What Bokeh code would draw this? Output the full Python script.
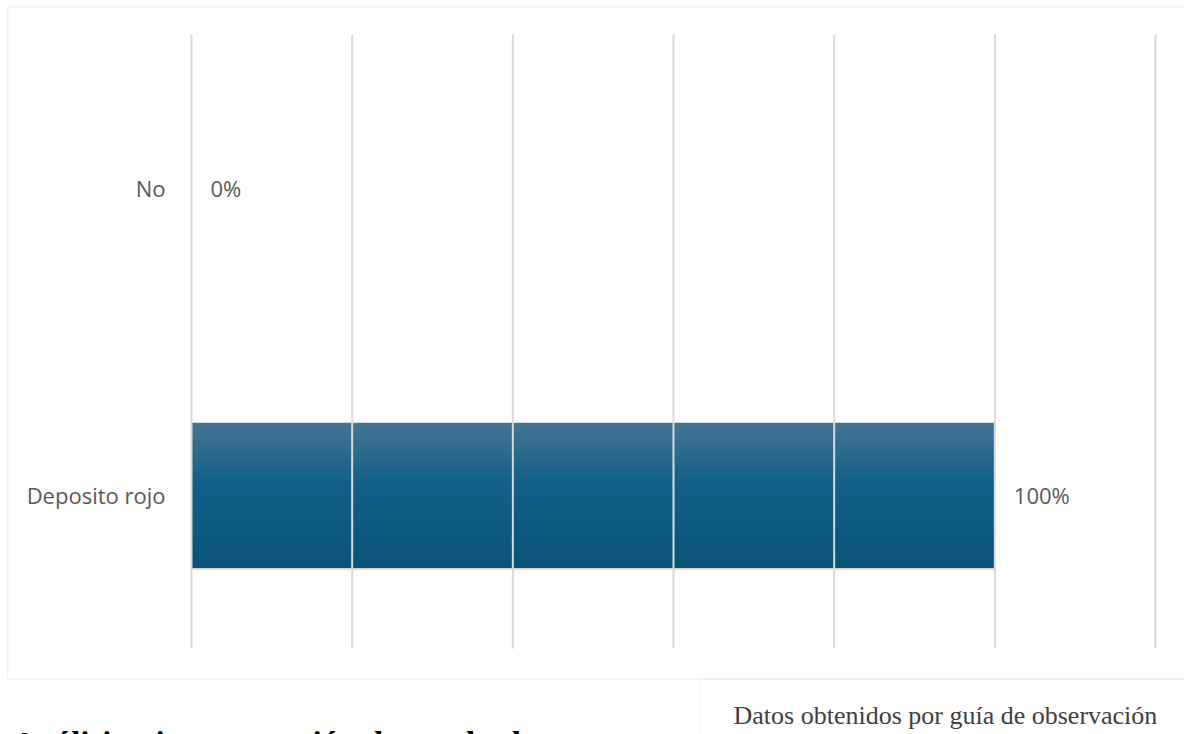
from bokeh.plotting import figure
from bokeh.models import Range1d, ColumnDataSource, Label, BoxAnnotation
from bokeh.transform import dodge
from bokeh.core.properties import value
from bokeh.embed import file_html
from bokeh.resources import INLINE

# ---- data ----
categories = ["Deposito rojo", "No"]
values = [100, 0]
value_labels = ["100%", "0%"]
x_ticks = [0, 20, 40, 60, 80, 100, 120]
source_note = "Datos obtenidos por guía de observación"
heading = "Análisis e interpretación de resultados"

# ---- layout (pixels) ----
W, H = 1184, 734
PLOT_L, PLOT_R = 191, 1155      # pixel of x=0 and x=120
BAND_TOP, BAND_BOT = 34, 648    # top / bottom of the category bands

n = len(categories)
idx = list(range(n))
src = ColumnDataSource(dict(cat=categories, idx=idx, val=values, lab=value_labels))

xmax = x_ticks[-1]
ppx = (PLOT_R - PLOT_L) / xmax
ppy = (BAND_BOT - BAND_TOP) / n
x_range = Range1d(-PLOT_L / ppx, xmax + (W - PLOT_R) / ppx)
y_range = Range1d(-0.5 - (H - BAND_BOT) / ppy, n - 0.5 + BAND_TOP / ppy)

p = figure(width=W, height=H, x_range=x_range, y_range=y_range,
           x_axis_location=None, y_axis_location=None,
           output_backend="svg", toolbar_location=None, min_border=0)
p.border_fill_color = "white"
p.background_fill_color = "white"
p.outline_line_color = None
p.grid.visible = False

BAR_H = 0.47

# soft shadow under the bar
for off, a in [(-0.006, 0.12), (-0.011, 0.08)]:
    p.hbar(y=dodge("idx", off), left=0, right="val", height=BAR_H,
           fill_color="#000000", fill_alpha=a, line_color=None, source=src)

# vertical gradient fill: nested bars, each one starting a bit lower
stops = [(0.0, (0x48, 0x74, 0x93)), (0.42, (0x10, 0x60, 0x87)), (1.0, (0x0a, 0x53, 0x78))]

def col_at(t):
    for (t0, c0), (t1, c1) in zip(stops[:-1], stops[1:]):
        if t0 <= t <= t1:
            f = (t - t0) / (t1 - t0)
            return "#%02x%02x%02x" % tuple(int(round(a + (b - a) * f)) for a, b in zip(c0, c1))
    return "#%02x%02x%02x" % stops[-1][1]

N = 40
sh = BAR_H / N
for k in range(N):
    top = BAR_H / 2 - k * sh
    bot = -BAR_H / 2
    p.hbar(y=dodge("idx", (top + bot) / 2), left=0, right="val",
           height=top - bot, fill_color=col_at((k + 0.5) / N), line_color=None, source=src)

# vertical grid lines (drawn over the bar, as in the reference)
p.segment(x0=x_ticks, x1=x_ticks, y0=-0.5, y1=n - 0.5,
          line_color="#d9d9d9", line_width=2)

# category labels (left) and value labels
p.text(x=0, y="idx", text="cat", x_offset=-26, text_align="right",
       text_baseline="middle", text_font=value("Open Sans"), text_font_size="22px",
       text_color="#595959", source=src)
p.text(x="val", y="idx", text="lab", x_offset=19, text_align="left",
       text_baseline="middle", text_font=value("Open Sans"), text_font_size="22px",
       text_color="#595959", source=src)

# ---- page frame and text below the chart ----
p.add_layout(BoxAnnotation(left=7, right=1200, top=6, bottom=678.5,
                           left_units="canvas", right_units="canvas",
                           top_units="canvas", bottom_units="canvas",
                           fill_color=None, line_color="#d9d9d9", line_width=2,
                           level="overlay"))
p.add_layout(BoxAnnotation(left=699, right=1200, top=678.5, bottom=800,
                           left_units="canvas", right_units="canvas",
                           top_units="canvas", bottom_units="canvas",
                           fill_color=None, line_color="#dce6f2", line_width=2,
                           level="overlay"))
p.add_layout(Label(x=733, y=715, x_units="canvas", y_units="canvas", text=source_note,
                   text_font="Liberation Serif", text_font_size="26px",
                   text_color="#404040", text_baseline="alphabetic"))
p.add_layout(Label(x=12, y=743, x_units="canvas", y_units="canvas", text=heading,
                   text_font="Liberation Serif", text_font_style="bold",
                   text_font_size="33px", text_color="#000000",
                   text_baseline="alphabetic"))

open("out.html", "w").write(file_html(p, INLINE))
